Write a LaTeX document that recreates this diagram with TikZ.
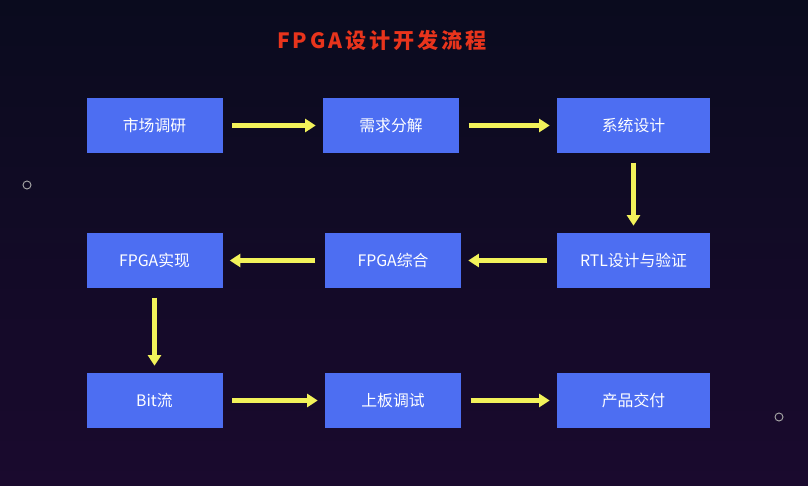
\documentclass[tikz,border=0pt]{standalone}
\usepackage{fontspec}
\newfontfamily\cjk{Noto Sans CJK SC}
\usetikzlibrary{arrows.meta}
\definecolor{boxblue}{HTML}{4D6EF2}
\definecolor{titlered}{HTML}{E8341C}
\definecolor{arrowyellow}{HTML}{F2F25A}
\definecolor{bgtop}{HTML}{0A0B1E}
\definecolor{bgbot}{HTML}{1A0A2E}
\tikzset{
  stepbox/.style={rectangle, fill=boxblue, text=white, minimum height=55*0.03cm,
    font=\cjk\fontsize{13.5}{15}\selectfont, inner sep=0pt},
  flow/.style={-{Triangle[length=9pt,width=11pt]}, arrowyellow, line width=3.5pt, shorten >=6pt, shorten <=8pt}
}
\begin{document}
\begin{tikzpicture}[x=0.03cm, y=-0.03cm]
  \shade[top color=bgtop, bottom color=bgbot] (0,0) rectangle (808,486);
  \useasboundingbox (0,0) rectangle (808,486);
  \draw[gray!70, line width=0.8pt] (27,185) circle (4);
  \draw[gray!70, line width=0.8pt] (779,417) circle (4);
  \node[text=titlered, font=\cjk\bfseries\fontsize{18}{20}\selectfont\addfontfeature{LetterSpace=14}] (title) at (382,40) {FPGA设计开发流程};
  % row 1
  \node[stepbox, minimum width=136*0.03cm] (market) at (154.5,125.5) {市场调研};
  \node[stepbox, minimum width=136*0.03cm] (req) at (391,125.5) {需求分解};
  \node[stepbox, minimum width=153*0.03cm] (sys) at (633.5,125.5) {系统设计};
  % row 2
  \node[stepbox, minimum width=136*0.03cm] (impl) at (154.5,260.5) {FPGA实现};
  \node[stepbox, minimum width=136*0.03cm] (synth) at (393,260.5) {FPGA综合};
  \node[stepbox, minimum width=153*0.03cm] (rtl) at (633.5,260.5) {RTL设计与验证};
  % row 3
  \node[stepbox, minimum width=136*0.03cm] (bit) at (154.5,400.5) {Bit流};
  \node[stepbox, minimum width=136*0.03cm] (debug) at (393,400.5) {上板调试};
  \node[stepbox, minimum width=153*0.03cm] (deliver) at (633.5,400.5) {产品交付};

  \draw[flow] (market) -- (req);
  \draw[flow] (req) -- (sys);
  \draw[flow] (sys) -- (rtl);
  \draw[flow] (rtl) -- (synth);
  \draw[flow] (synth) -- (impl);
  \draw[flow] (impl) -- (bit);
  \draw[flow] (bit) -- (debug);
  \draw[flow] (debug) -- (deliver);
\end{tikzpicture}
\end{document}
